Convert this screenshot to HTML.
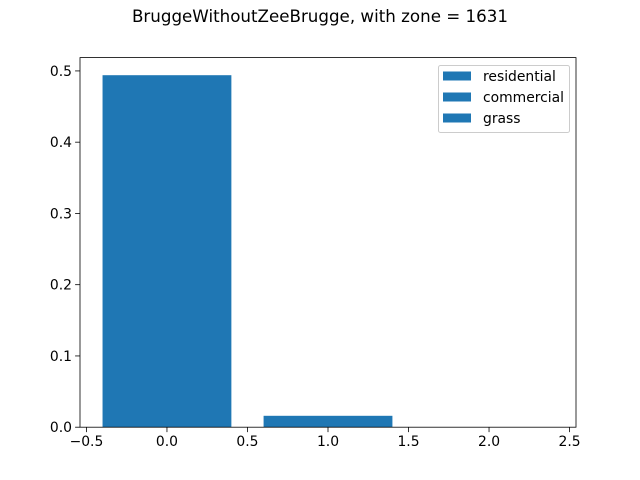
<!DOCTYPE html>
<html><head><meta charset="utf-8"><style>body{margin:0;background:#fff}svg{display:block;font-family:"DejaVu Sans","Liberation Sans",sans-serif}</style></head>
<body>
<svg id="chart" width="640" height="480" xmlns="http://www.w3.org/2000/svg">
<rect width="640" height="480" fill="#fff"/>
<text x="320" y="22" text-anchor="middle" font-size="16.7">BruggeWithoutZeeBrugge, with zone = 1631</text>
<g id="bars"></g>
<g id="axes"></g>
<g>
<rect x="438.5" y="65.5" width="131" height="67" rx="2" fill="#fff" fill-opacity="0.8" stroke="#ccc"/>
<g id="legend-items"></g>
</g>
</svg>
<script>
const categories = [0, 1, 2];
const values = [0.494, 0.016, 0.0];
const legendLabels = ["residential", "commercial", "grass"];
const xTicks = [-0.5, 0.0, 0.5, 1.0, 1.5, 2.0, 2.5];
const yTicks = [0.0, 0.1, 0.2, 0.3, 0.4, 0.5];
const L=80,R=576,T=57.6,B=427.2;
const xmin=-0.54,xmax=2.54,ymin=0,ymax=0.5187;
const sx=v=>L+(v-xmin)/(xmax-xmin)*(R-L);
const sy=v=>B-(v-ymin)/(ymax-ymin)*(B-T);
const NS="http://www.w3.org/2000/svg";
function mk(tag,attrs,parent){const e=document.createElementNS(NS,tag);for(const k in attrs)e.setAttribute(k,attrs[k]);parent.appendChild(e);return e;}
const fmt=t=>t.toFixed(1).replace('-','\u2212');
const bars=document.getElementById('bars');
categories.forEach((c,i)=>{
  const y0=sy(values[i]);
  const r=mk('rect',{x:sx(c-0.4),y:y0,width:sx(c+0.4)-sx(c-0.4),height:B-y0,fill:'#1f77b4'},bars);
  
  
});
const ax=document.getElementById('axes');
const fr=mk('rect',{x:L,y:T,width:R-L,height:B-T,fill:'none',stroke:'#000','stroke-width':0.8},ax);


xTicks.forEach(t=>{
  const x=sx(t);
  mk('line',{x1:x,x2:x,y1:B,y2:B+4.9,stroke:'#000','stroke-width':0.8},ax);
  const tx=mk('text',{x:x,y:B+19,'text-anchor':'middle','font-size':13.9},ax);
  tx.textContent=fmt(t);
  
  
});
yTicks.forEach(t=>{
  const y=sy(t);
  mk('line',{x1:L-4.9,x2:L,y1:y,y2:y,stroke:'#000','stroke-width':0.8},ax);
  const tx=mk('text',{x:L-8,y:y+5,'text-anchor':'end','font-size':13.9},ax);
  tx.textContent=fmt(t);
  
  
});
const lg=document.getElementById('legend-items');
legendLabels.forEach((l,i)=>{
  const cy=76+i*21;
  const p=mk('rect',{x:443,y:cy-4.5,width:28,height:9,fill:'#1f77b4'},lg);
  
  
  const t=mk('text',{x:483,y:cy+5,'font-size':13.9},lg);
  t.textContent=l;
  
  
});
</script>
</body></html>
